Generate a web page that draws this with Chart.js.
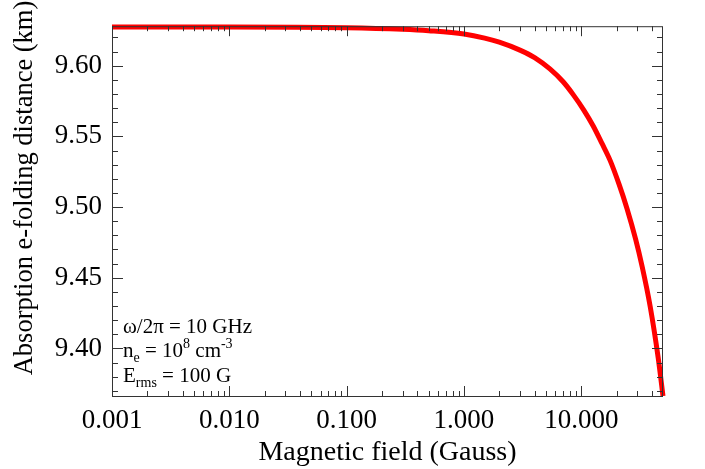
<!DOCTYPE html>
<html>
<head>
<meta charset="utf-8">
<script src="https://cdn.jsdelivr.net/npm/chart.js@4/dist/chart.umd.min.js"></script>
<style>
  html, body { margin: 0; padding: 0; background: #fff; }
  #wrap { width: 705px; height: 469px; }
</style>
</head>
<body>
<div id="wrap"><canvas id="absorption"></canvas></div>
<script>
// magnetic field (Gauss) and e-folding distance (km)
const fieldValues = [0.001, 0.01, 0.1, 0.3, 0.5, 1.0, 1.5, 2.0, 3.0, 4.0, 5.4, 7.0, 8.5, 10.5, 12.6, 15.0, 17.6, 21.0, 24.5, 29.0, 33.0, 38.6, 45.2, 49.7];
const distanceValues = [9.6273, 9.6273, 9.6268, 9.6257, 9.6247, 9.6224, 9.6195, 9.6166, 9.6110, 9.6057, 9.5977, 9.5886, 9.5797, 9.5686, 9.5575, 9.5450, 9.5330, 9.5160, 9.4990, 9.4775, 9.4580, 9.4300, 9.3935, 9.3664];

const xTickValues = [0.001, 0.01, 0.1, 1, 10];
const yTickValues = [9.40, 9.45, 9.50, 9.55, 9.60];

const xMin = 0.001, xMax = 49.7;
const yMin = 9.3664, yMax = 9.6279;

const serif = "'Liberation Serif', 'DejaVu Serif', serif";
Chart.defaults.font.family = serif;
Chart.defaults.color = "#000";

// minor tick positions: 2..9 per decade, every 0.01 on y
const xMinor = [];
for (let d = -3; d <= 1; d++) {
  for (let m = 2; m <= 9; m++) {
    const v = m * Math.pow(10, d);
    if (v <= xMax) xMinor.push(v);
  }
}
const yMinor = [];
for (let k = 937; k <= 962; k++) yMinor.push(k / 100);

function drawRich(ctx, x, y, parts) {
  let cx = x;
  parts.forEach(p => {
    ctx.font = p.size + "px " + serif;
    ctx.fillText(p.t, cx, y + (p.dy || 0));
    cx += ctx.measureText(p.t).width;
  });
}

const framePlugin = {
  id: "frame",
  afterDraw(chart) {
    const ctx = chart.ctx;
    const a = chart.chartArea;
    const xs = chart.scales.x, ys = chart.scales.y;
    ctx.save();
    ctx.strokeStyle = "#333";
    ctx.lineWidth = 1;
    ctx.strokeRect(a.left + 0.5, a.top + 0.5, a.right - a.left - 1, a.bottom - a.top);

    ctx.beginPath();
    const tick = (v, len, axis) => {
      if (axis === "x") {
        const px = Math.round(xs.getPixelForValue(v)) + 0.5;
        ctx.moveTo(px, a.bottom); ctx.lineTo(px, a.bottom - len);
        ctx.moveTo(px, a.top); ctx.lineTo(px, a.top + len);
      } else {
        const py = Math.round(ys.getPixelForValue(v)) + 0.5;
        ctx.moveTo(a.left, py); ctx.lineTo(a.left + len, py);
        ctx.moveTo(a.right, py); ctx.lineTo(a.right - len, py);
      }
    };
    xTickValues.forEach(v => tick(v, 10, "x"));
    xMinor.forEach(v => tick(v, 5, "x"));
    yTickValues.forEach(v => tick(v, 11, "y"));
    yMinor.forEach(v => { if (Math.round(v * 100) % 5 !== 0) tick(v, 6, "y"); });
    ctx.stroke();

    ctx.fillStyle = "#000";

    // y axis title
    ctx.save();
    ctx.translate(25, 188);
    ctx.rotate(-Math.PI / 2);
    ctx.textAlign = "center";
    ctx.textBaseline = "middle";
    ctx.font = "26.5px " + serif;
    ctx.fillText("Absorption e-folding distance (km)", 0, 0);
    ctx.restore();

    // annotation text
    ctx.textBaseline = "alphabetic";
    ctx.textAlign = "left";
    const tx = a.left + 11;
    drawRich(ctx, tx, a.bottom - 63, [{ t: "ω/2π = 10 GHz", size: 21 }]);
    drawRich(ctx, tx, a.bottom - 39, [
      { t: "n", size: 21 }, { t: "e", size: 14, dy: 5 },
      { t: " = 10", size: 21 }, { t: "8", size: 14, dy: -9 },
      { t: " cm", size: 21 }, { t: "-3", size: 14, dy: -9 }
    ]);
    drawRich(ctx, tx, a.bottom - 14, [
      { t: "E", size: 21 }, { t: "rms", size: 14, dy: 5 },
      { t: " = 100 G", size: 21 }
    ]);
    ctx.restore();
  }
};

new Chart(document.getElementById("absorption"), {
  type: "line",
  data: {
    datasets: [
      {
        data: fieldValues.map((b, i) => ({ x: b, y: distanceValues[i] })),
        borderColor: "#ff0000",
        borderWidth: 5,
        pointRadius: 0,
        cubicInterpolationMode: "monotone",
        clip: 4,
      },
    ],
  },
  options: {
    responsive: true,
    maintainAspectRatio: false,
    animation: false,
    layout: { padding: { top: 5, right: 42, left: 0, bottom: 0 } },
    plugins: { legend: { display: false }, tooltip: { enabled: false } },
    scales: {
      x: {
        type: "logarithmic",
        min: xMin,
        max: xMax,
        afterBuildTicks: (s) => { s.ticks = xTickValues.map(v => ({ value: v })); },
        afterFit: (s) => { s.height = 73; },
        grid: { display: false, drawTicks: false },
        border: { display: false },
        ticks: {
          color: "#000",
          padding: 9,
          maxRotation: 0,
          autoSkip: false,
          font: { family: serif, size: 27 },
          callback: (v) => Number(v).toFixed(3),
        },
        title: {
          display: true,
          text: "Magnetic field (Gauss)",
          color: "#000",
          font: { family: serif, size: 28 },
          padding: { top: 0, bottom: 0 },
        },
      },
      y: {
        min: yMin,
        max: yMax,
        afterBuildTicks: (s) => { s.ticks = yTickValues.map(v => ({ value: v })); },
        afterFit: (s) => { s.width = 112; },
        grid: { display: false, drawTicks: false },
        border: { display: false },
        ticks: {
          color: "#000",
          padding: 10,
          font: { family: serif, size: 27 },
          callback: (v) => Number(v).toFixed(2),
        },
      },
    },
  },
  plugins: [framePlugin],
});
</script>
</body>
</html>
